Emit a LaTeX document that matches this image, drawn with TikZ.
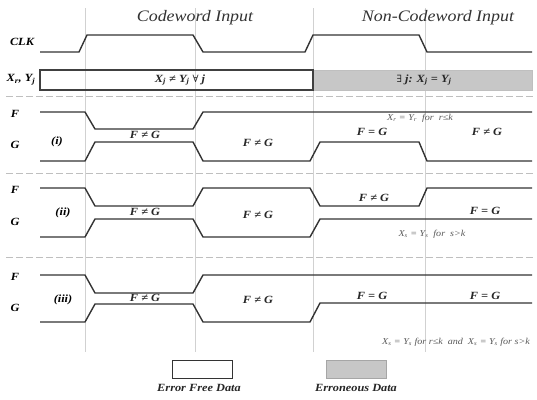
\documentclass[tikz,border=0pt]{standalone}
\usepackage{fontspec}
\setmainfont[FakeStretch=1.12]{Liberation Serif}
\newfontfamily\symf{DejaVu Serif}
\begin{document}
\begin{tikzpicture}[x=1pt,y=-1pt,
  sig/.style={draw=black!80,line width=1.4pt,line join=round},
  vline/.style={draw=black!18,line width=0.9pt},
  sep/.style={draw=black!25,line width=0.8pt,dash pattern=on 7pt off 3pt},
  lab/.style={font=\fontsize{11}{12}\selectfont\bfseries\itshape,inner sep=0pt},
  rel/.style={font=\fontsize{11}{12}\selectfont\bfseries\itshape,inner sep=0pt,text=black!85},
  cond/.style={font=\fontsize{9}{11}\selectfont\itshape,inner sep=0pt,text=black!65},
  title/.style={font=\fontsize{16}{18}\selectfont\itshape,inner sep=0pt,text=black!80}]
\useasboundingbox (0,0) rectangle (537,399);
\fill[white] (0,0) rectangle (537,399);
% vertical guide lines
\foreach \x in {85,195,313,425} \draw[vline] (\x,8) -- (\x,352);
% separators
\foreach \y in {96,173,257} \draw[sep] (6,\y) -- (535,\y);
% titles
\node[title] (t1) at (195,18) {Codeword Input};
\node[title] (t2) at (438,18) {Non-Codeword Input};
% CLK
\node[lab] (clk) at (22,42) {CLK};
\draw[sig] (40,52) -- (79,52) -- (87,35) -- (193,35) -- (203,52) -- (305,52) -- (313,35) -- (419,35) -- (427,52) -- (532,52);
% bus
\node[lab] (xy) at (21,80) {X\textsubscript{r}, Y\textsubscript{j}};
\draw[draw=black!25,fill=black!22,line width=1pt] (313,70) rectangle (532,90);
\draw[draw=black!75,line width=1.1pt] (40,70) rectangle (313,90);
\node[rel] (b1) at (180,80) {X\textsubscript{j} ≠ Y\textsubscript{j} {\normalfont\symf\fontsize{10}{12}\selectfont ∀} j};
\node[rel] (b2) at (424,80) {{\normalfont\symf\fontsize{10}{12}\selectfont ∃} j: X\textsubscript{j} = Y\textsubscript{j}};
% panel (i)
\node[lab] (f1) at (15,114) {F};
\node[lab] (g1) at (15,145) {G};
\node[lab] (p1) at (57,142) {(i)};
\draw[sig] (40,112) -- (85,112) -- (95,129) -- (193,129) -- (203,112) -- (532,112);
\draw[sig] (40,161) -- (85,161) -- (95,142) -- (193,142) -- (203,161) -- (310,161) -- (320,142) -- (419,142) -- (427,161) -- (532,161);
\node[rel] (r1a) at (145,135) {F ≠ G};
\node[rel] (r1b) at (258,143) {F ≠ G};
\node[rel] (r1c) at (372,132) {F = G};
\node[rel] (r1d) at (487,132) {F ≠ G};
\node[cond] (c1) at (420,118) {X\textsubscript{r} = Y\textsubscript{r}\ \ for\ \ r≤k};
% panel (ii)
\node[lab] (f2) at (15,190) {F};
\node[lab] (g2) at (15,222) {G};
\node[lab] (p2) at (63,213) {(ii)};
\draw[sig] (40,188) -- (85,188) -- (95,206) -- (193,206) -- (203,188) -- (310,188) -- (320,206) -- (419,206) -- (427,188) -- (532,188);
\draw[sig] (40,237) -- (85,237) -- (95,219) -- (193,219) -- (203,237) -- (310,237) -- (320,219) -- (532,219);
\node[rel] (r2a) at (145,212) {F ≠ G};
\node[rel] (r2b) at (258,215) {F ≠ G};
\node[rel] (r2c) at (374,198) {F ≠ G};
\node[rel] (r2d) at (485,211) {F = G};
\node[cond] (c2) at (432,234) {X\textsubscript{s} = Y\textsubscript{s}\ \ for\ \ s>k};
% panel (iii)
\node[lab] (f3) at (15,277) {F};
\node[lab] (g3) at (15,308) {G};
\node[lab] (p3) at (63,300) {(iii)};
\draw[sig] (40,275) -- (85,275) -- (95,293) -- (193,293) -- (203,275) -- (532,275);
\draw[sig] (40,322) -- (85,322) -- (95,304) -- (193,304) -- (203,322) -- (310,322) -- (320,303) -- (532,303);
\node[rel] (r3a) at (145,298) {F ≠ G};
\node[rel] (r3b) at (258,300) {F ≠ G};
\node[rel] (r3c) at (372,296) {F = G};
\node[rel] (r3d) at (485,296) {F = G};
\node[cond] (c3) at (456,342) {X\textsubscript{s} = Y\textsubscript{s}\ for\ r≤k\ \ and\ \ X\textsubscript{s} = Y\textsubscript{s}\ for\ s>k};
% legend
\draw[draw=black!80,fill=white,line width=1pt] (172,360) rectangle (232,378);
\draw[draw=black!35,fill=black!22,line width=1pt] (326,360) rectangle (386,378);
\node[rel] (l1) at (199,388) {Error Free Data};
\node[rel] (l2) at (356,388) {Erroneous Data};
\end{tikzpicture}
\end{document}
